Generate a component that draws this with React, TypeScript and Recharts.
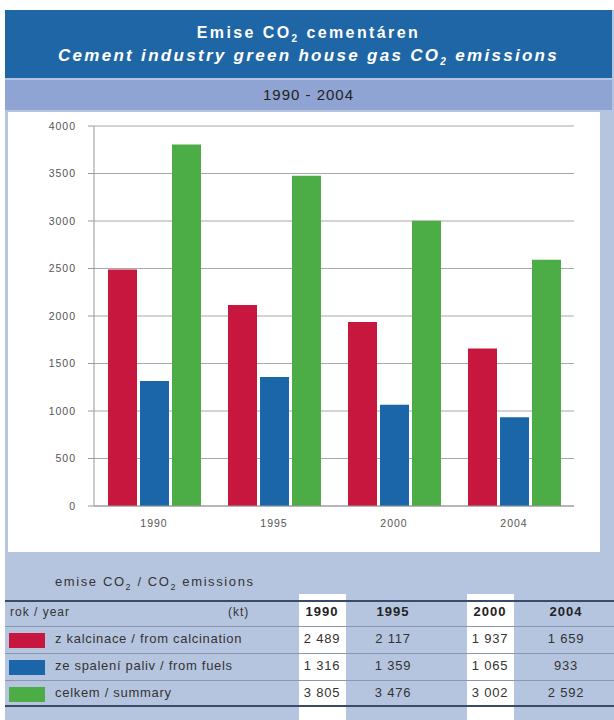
import React from 'react';
import { BarChart, Bar, XAxis, YAxis, CartesianGrid } from 'recharts';

const years = ['1990', '1995', '2000', '2004'];
const calcination = [2489, 2117, 1937, 1659];
const fuels = [1316, 1359, 1065, 933];
const summary = [3805, 3476, 3002, 2592];
const yTicks = [0, 500, 1000, 1500, 2000, 2500, 3000, 3500, 4000];

const RED = '#c8173f';
const BLUE = '#1a66a8';
const GREEN = '#4cad47';

const data = years.map((y, i) => ({
    year: y,
    calcination: calcination[i],
    fuels: fuels[i],
    summary: summary[i],
}));

const rows = [
    { label: 'z kalcinace / from calcination', color: RED, values: calcination },
    { label: 'ze spalení paliv / from fuels', color: BLUE, values: fuels },
    { label: 'celkem / summary', color: GREEN, values: summary },
];

const fmt = (v: number) => (v >= 1000 ? `${Math.floor(v / 1000)} ${String(v % 1000).padStart(3, '0')}` : String(v));

const colX = [322, 393, 490, 566];
const font = '"Liberation Sans", Arial, sans-serif';
const tickStyle = { fontSize: 10.5, fill: '#555', fontFamily: font, letterSpacing: 1 };

const App: React.FC = () => {
    return (
        <div style={{ position: 'absolute', left: 0, top: 0, width: 614, height: 720, background: '#fff', fontFamily: font, overflow: 'hidden' }}>
            {/* frame */}
            <div style={{ position: 'absolute', left: 5, top: 10, width: 609, height: 710, background: '#b6c5df' }} />
            <div style={{ position: 'absolute', left: 8, top: 112, width: 592, height: 440, background: '#fff' }} />

            {/* header */}
            <div style={{ position: 'absolute', left: 5, top: 10, width: 607, height: 68, background: '#1f66a6', color: '#fff', textAlign: 'center', fontWeight: 'bold' }}>
                <div style={{ fontSize: 16, letterSpacing: 2.4, marginTop: 14 }}>Emise CO<sub style={{ fontSize: 10 }}>2</sub> cementáren</div>
                <div style={{ fontSize: 17, letterSpacing: 2.3, fontStyle: 'italic', marginTop: 2 }}>Cement industry green house gas CO<sub style={{ fontSize: 10 }}>2</sub> emissions</div>
            </div>
            <div style={{ position: 'absolute', left: 5, top: 80, width: 607, height: 30, background: '#8fa4d2', color: '#222', textAlign: 'center', fontSize: 15, letterSpacing: 1, lineHeight: '30px' }}>
                1990 - 2004
            </div>

            {/* chart */}
            <div style={{ position: 'absolute', left: 0, top: 112 }}>
                <BarChart width={600} height={440} data={data} margin={{ top: 14, right: 26, left: 0, bottom: 16 }} barCategoryGap={14} barGap={3}>
                    <CartesianGrid vertical={false} stroke="#a8a8a8" />
                    <XAxis dataKey="year" height={30} tickLine={false} axisLine={{ stroke: '#999' }} tick={tickStyle} tickMargin={8} />
                    <YAxis width={94} domain={[0, 4000]} ticks={yTicks} interval={0} tickSize={6} tickMargin={12} axisLine={{ stroke: '#999' }} tickLine={{ stroke: '#999' }} tick={tickStyle} />
                    <Bar dataKey="calcination" fill={RED} isAnimationActive={false} />
                    <Bar dataKey="fuels" fill={BLUE} isAnimationActive={false} />
                    <Bar dataKey="summary" fill={GREEN} isAnimationActive={false} />
                </BarChart>
            </div>

            {/* table */}
            <div style={{ position: 'absolute', left: 299, top: 594, width: 47, height: 126, background: '#fff' }} />
            <div style={{ position: 'absolute', left: 467, top: 594, width: 47, height: 126, background: '#fff' }} />
            <div style={{ position: 'absolute', left: 55, top: 574, fontSize: 13, letterSpacing: 1.6, color: '#333' }}>
                emise CO<sub style={{ fontSize: 9 }}>2</sub> / CO<sub style={{ fontSize: 9 }}>2</sub> emissions
            </div>
            <div style={{ position: 'absolute', left: 5, top: 600, width: 609, height: 2, background: '#3b4a66' }} />
            <div style={{ position: 'absolute', left: 5, top: 705, width: 609, height: 2, background: '#3b4a66' }} />
            {[626, 653, 680].map((y) => (
                <div key={y} style={{ position: 'absolute', left: 5, top: y, width: 609, height: 1, background: '#8a97b0' }} />
            ))}
            <div style={{ position: 'absolute', left: 10, top: 605, fontSize: 12, letterSpacing: 1, color: '#333' }}>rok / year</div>
            <div style={{ position: 'absolute', left: 228, top: 605, fontSize: 12, letterSpacing: 1, color: '#333' }}>(kt)</div>
            {years.map((y, i) => (
                <div key={y} style={{ position: 'absolute', left: colX[i] - 30, width: 60, top: 604, textAlign: 'center', fontSize: 13, letterSpacing: 1, fontWeight: 'bold', color: '#222' }}>{y}</div>
            ))}
            {rows.map((r, ri) => (
                <React.Fragment key={r.label}>
                    <div style={{ position: 'absolute', left: 9, top: 633 + ri * 27, width: 36, height: 15, background: r.color }} />
                    <div style={{ position: 'absolute', left: 55, top: 631 + ri * 27, fontSize: 13, letterSpacing: 0.7, color: '#333' }}>{r.label}</div>
                    {r.values.map((v, i) => (
                        <div key={i} style={{ position: 'absolute', left: colX[i] - 30, width: 60, top: 631 + ri * 27, textAlign: 'center', fontSize: 13, letterSpacing: 0.8, color: '#333' }}>{fmt(v)}</div>
                    ))}
                </React.Fragment>
            ))}
        </div>
    );
};

export default App;
